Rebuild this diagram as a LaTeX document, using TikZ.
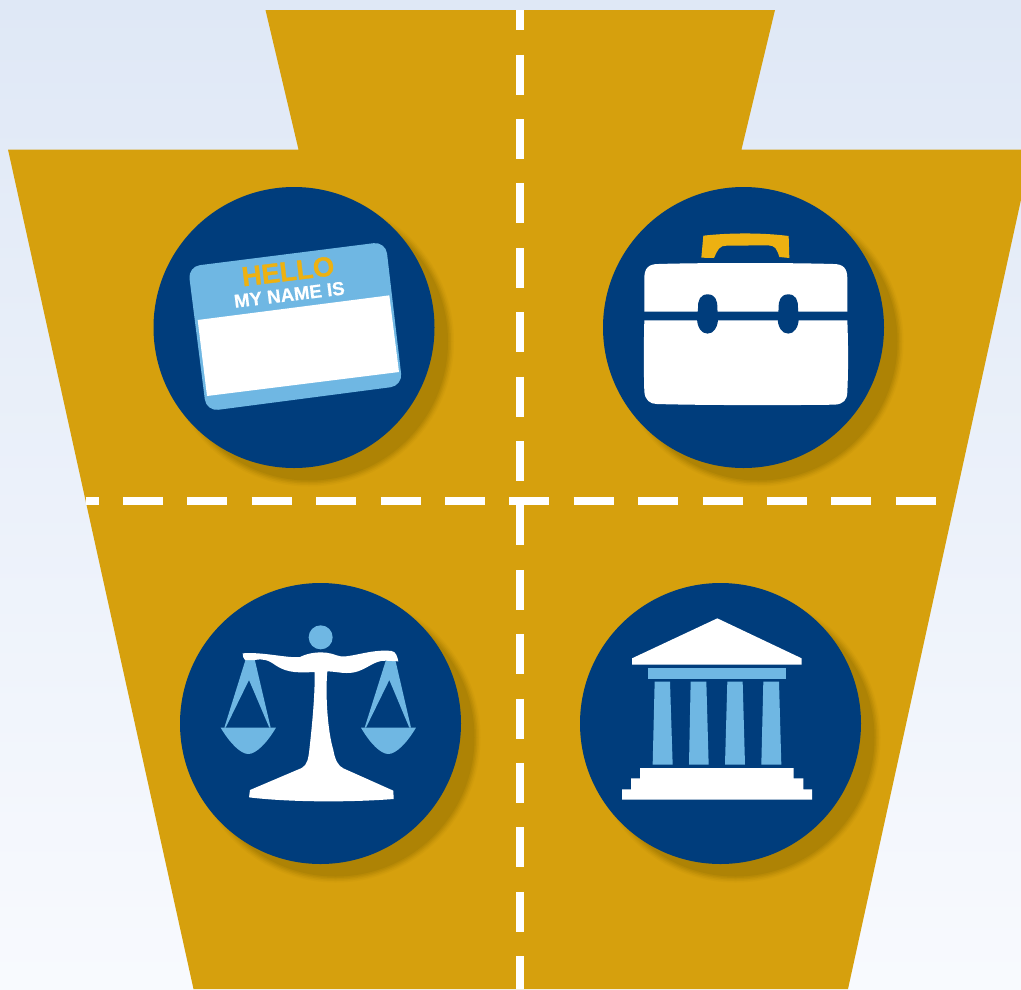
\documentclass[tikz,border=0pt]{standalone}
\usepackage{fontspec}
\setmainfont{Liberation Sans}
\newfontfamily\tagfont[FakeBold=0.4]{Liberation Sans Bold}
\newfontfamily\hellofont[FakeBold=1.2]{Liberation Sans Bold}
\definecolor{gold}{HTML}{D6A00D}
\definecolor{navy}{HTML}{003D7C}
\definecolor{sky}{HTML}{6FB7E3}
\definecolor{handle}{HTML}{EDB111}
\definecolor{shadowc}{HTML}{AE8305}
\definecolor{bgtop}{HTML}{DFE8F6}
\definecolor{bgbot}{HTML}{F8FAFE}
\tikzset{
  dashline/.style={white,line width=8pt,dash pattern=on 40pt off 24.4pt},
  disc/.style={fill=navy},
  zoomed/.style={x=0.33333pt,y=-0.33333pt},
  lightpart/.style={fill=sky},
  whitepart/.style={fill=white}
}
\newcommand{\shadowdisc}[2]{%
  \foreach \r/\o in {145/0.12,143.5/0.2,142/0.3,140.5/0.45,139/1}{
    \fill[shadowc,opacity=\o] (#1+15,#2+14) circle[radius=\r];}
  \fill[disc] (#1,#2) circle[radius=140.5];}
\begin{document}
\begin{tikzpicture}[x=1pt,y=-1pt]
\useasboundingbox (0,0) rectangle (1021,989);
\shade[top color=bgtop,bottom color=bgbot] (0,0) rectangle (1021,989);
\clip (0,0) rectangle (1021,989);
% keystone
\fill[gold] (265.5,10) -- (775,10) -- (741.5,149.5) -- (1032,149.5) -- (848,989) -- (193.5,989) -- (8,149.5) -- (298.5,149.5) -- cycle;
% dashes
\coordinate (vt) at (520,10);
\coordinate (vb) at (520,989);
\coordinate (hl) at (85.5,501);
\coordinate (hr) at (936,501);
\draw[dashline,dash phase=19.8pt] (vt) -- (vb);
\draw[dashline,dash phase=27pt] (hl) -- (hr);
% discs
\shadowdisc{294}{327.5}
\shadowdisc{743.5}{327.5}
\shadowdisc{320.5}{723.5}
\shadowdisc{720.5}{723.5}
% name tag
\begin{scope}[shift={(150,180)},zoomed]
\fill[lightpart,rounded corners=12pt] (114,260) -- (707,185) -- (757.5,617) -- (169,694) -- cycle;
\fill[whitepart] (143,420) -- (718,346) -- (747,576) -- (171,648) -- cycle;
\node[text=handle,font=\hellofont\fontsize{27.4pt}{30pt}\selectfont,rotate=7,inner sep=0pt] (hello) at (414,274) {HELLO};
\node[text=white,font=\tagfont\fontsize{18.7pt}{22pt}\selectfont,rotate=7,inner sep=0pt] (myname) at (418,344) {MY NAME IS};
\end{scope}
% briefcase
\begin{scope}[shift={(600,180)},zoomed]
\fill[handle] (310,167) .. controls (390,158) and (490,158) .. (566,168) -- (568,234) -- (538,231) .. controls (530,205) and (525,197) .. (505,196) -- (380,197) .. controls (360,197) and (355,205) .. (342,234) -- (304,233) -- cycle;
\fill[whitepart] (133,395) -- (133,295) .. controls (133,265) and (145,252) .. (175,252) .. controls (300,248) and (570,248) .. (700,252) .. controls (730,252) and (742,265) .. (742,295) -- (742,395) -- cycle;
\fill[whitepart] (133,421) .. controls (131,500) and (131,570) .. (133,635) .. controls (135,660) and (150,672) .. (170,672) .. controls (300,676) and (570,676) .. (705,674) .. controls (730,672) and (742,660) .. (742,635) .. controls (745,570) and (745,500) .. (742,421) -- cycle;
\fill[navy] (323,343) .. controls (345,343) and (353,360) .. (352,385) .. controls (352,400) and (360,425) .. (345,448) .. controls (335,465) and (310,465) .. (300,448) .. controls (285,425) and (294,400) .. (294,385) .. controls (293,360) and (301,343) .. (323,343) -- cycle;
\fill[navy] (565,343) .. controls (587,343) and (595,360) .. (594,385) .. controls (594,400) and (602,425) .. (587,448) .. controls (577,465) and (552,465) .. (542,448) .. controls (527,425) and (536,400) .. (536,385) .. controls (535,360) and (543,343) .. (565,343) -- cycle;
\end{scope}
% scales
\begin{scope}[shift={(180,580)},zoomed]
\fill[lightpart] (422,172) circle[radius=36];
\fill[lightpart] (197,238) -- (133,443) -- (137,443) -- (207,300) -- (268,443) -- (272,443) -- (224,238) -- cycle;
\fill[lightpart] (122,443) -- (288,443) .. controls (260,490) and (228,522) .. (205,522) .. controls (182,522) and (150,490) .. (122,443) -- cycle;
\fill[lightpart] (618,240) -- (554,443) -- (558,443) -- (628,300) -- (688,443) -- (693,443) -- (646,240) -- cycle;
\fill[lightpart] (543,443) -- (708,443) .. controls (680,490) and (648,522) .. (625,522) .. controls (602,522) and (570,490) .. (543,443) -- cycle;
\fill[whitepart] (188,220) .. controls (250,215) and (320,235) .. (360,231) .. controls (385,218) and (430,210) .. (470,226) .. controls (500,240) and (570,205) .. (635,213) .. controls (648,215) and (652,230) .. (655,244) -- (618,242) .. controls (575,240) and (555,280) .. (500,279) .. controls (480,279) and (460,274) .. (442,274) .. controls (436,340) and (442,450) .. (460,510) .. controls (465,540) and (475,558) .. (490,565) -- (640,632) -- (641,657) .. controls (500,668) and (320,666) .. (207,652) -- (210,630) -- (365,564) .. controls (382,555) and (385,535) .. (388,510) .. controls (398,420) and (405,340) .. (404,276) .. controls (360,278) and (325,280) .. (290,258) .. controls (265,240) and (250,235) .. (225,240) -- (195,240) .. controls (190,235) and (188,228) .. (188,220) -- cycle;
\end{scope}
% bank
\begin{scope}[shift={(580,580)},zoomed]
\fill[whitepart] (156,235) -- (412,115) -- (665,235) -- (665,254) -- (156,254) -- cycle;
\fill[lightpart] (204,264) rectangle (618,297);
\fill[lightpart] (224,305) -- (270,305) -- (278,554) -- (218,554) -- cycle;
\fill[lightpart] (332,305) -- (379,305) -- (386,554) -- (327,554) -- cycle;
\fill[lightpart] (442,305) -- (488,305) -- (495,554) -- (435,554) -- cycle;
\fill[lightpart] (550,305) -- (597,305) -- (604,554) -- (544,554) -- cycle;
\fill[whitepart] (180,564) -- (641,564) -- (641,595) -- (670,595) -- (670,628) -- (696,628) -- (696,659) -- (126,659) -- (126,628) -- (153,628) -- (153,595) -- (180,595) -- cycle;
\end{scope}
\end{tikzpicture}
\end{document}
